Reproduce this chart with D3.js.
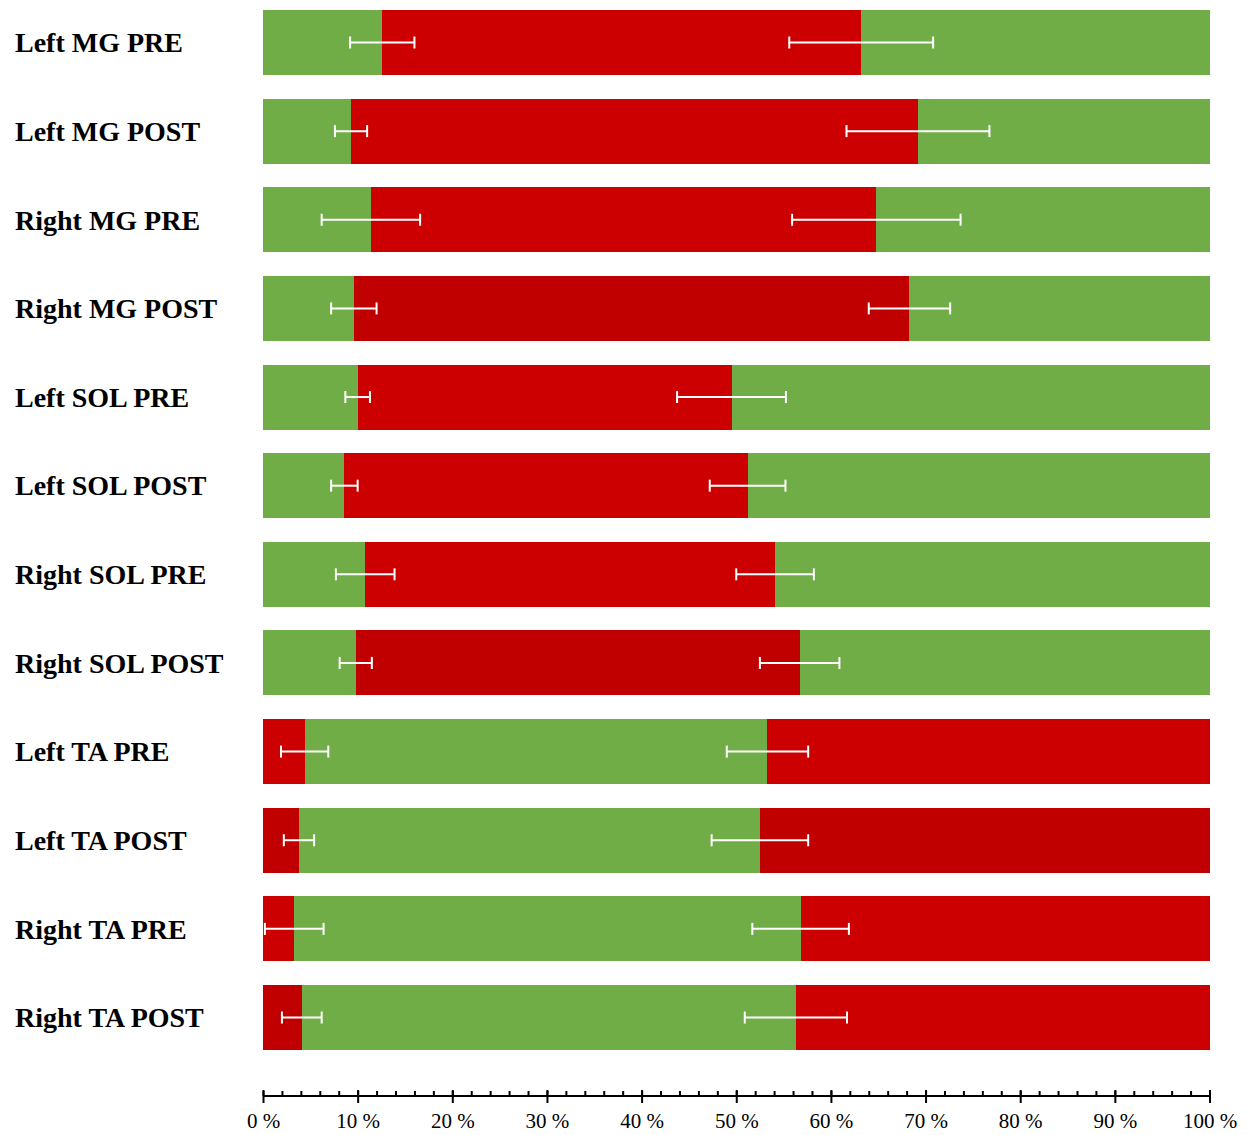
<!DOCTYPE html>
<html>
<head>
<meta charset="utf-8">
<script src="https://cdn.jsdelivr.net/npm/d3@7"></script>
<style>
  html, body { margin: 0; padding: 0; background: #ffffff; }
  svg { display: block; }
</style>
</head>
<body>
<svg id="chart" width="1254" height="1135"></svg>
<script>
// ---- data ----
const categories = [
  "Left MG PRE", "Left MG POST", "Right MG PRE", "Right MG POST",
  "Left SOL PRE", "Left SOL POST", "Right SOL PRE", "Right SOL POST",
  "Left TA PRE", "Left TA POST", "Right TA PRE", "Right TA POST"
];
// first boundary (end of first segment), %
const boundary1 = [12.6, 9.3, 11.4, 9.6, 10.0, 8.6, 10.8, 9.8, 4.4, 3.8, 3.3, 4.1];
// second boundary (end of second segment), %
const boundary2 = [63.2, 69.2, 64.8, 68.3, 49.5, 51.2, 54.1, 56.7, 53.3, 52.5, 56.8, 56.3];
// error half-widths at each boundary, %
const error1 = [3.4, 1.7, 5.2, 2.4, 1.3, 1.4, 3.1, 1.7, 2.5, 1.6, 3.1, 2.1];
const error2 = [7.6, 7.55, 8.9, 4.3, 5.75, 4.0, 4.1, 4.2, 4.3, 5.1, 5.1, 5.4];
// colour keys of the three segments per bar
const segKeys1 = ["green","green","green","green","green","green","green","green","red","darkred","red","darkred"];
const segKeys2 = ["red","red","red","darkred","red","red","red","darkred","green","green","green","green"];
const segKeys3 = ["green","green","green","green","green","green","green","green","red","darkred","red","red"];
const majorTicks = [0, 10, 20, 30, 40, 50, 60, 70, 80, 90, 100];
const minorTicks = d3.range(0, 101, 2);

const palette = { green: "#70AD47", red: "#CC0000", darkred: "#C00000" };

// ---- layout ----
const svg = d3.select("#chart");
const x = d3.scaleLinear().domain([0, 100]).range([263, 1209.5]);
const y = d3.scaleBand().domain(categories).range([10, 1050]).paddingInner(0.267).paddingOuter(0);

const rows = categories.map((c, i) => ({
  cat: c,
  segs: [
    { x0: 0, x1: boundary1[i], key: segKeys1[i] },
    { x0: boundary1[i], x1: boundary2[i], key: segKeys2[i] },
    { x0: boundary2[i], x1: 100, key: segKeys3[i] }
  ],
  errs: [
    { c: boundary1[i], e: error1[i] },
    { c: boundary2[i], e: error2[i] }
  ]
}));

const g = svg.selectAll("g.row").data(rows).join("g").attr("class", "row")
  .attr("transform", d => `translate(0,${y(d.cat)})`);

g.selectAll("rect").data(d => d.segs).join("rect")
  .attr("x", d => x(d.x0))
  .attr("width", d => x(d.x1) - x(d.x0))
  .attr("y", 0)
  .attr("height", y.bandwidth())
  .attr("fill", d => palette[d.key])
  .attr("shape-rendering", "crispEdges");

const bw = y.bandwidth();
const eg = g.selectAll("g.err").data(d => d.errs).join("g").attr("class", "err");
eg.append("line")
  .attr("x1", d => x(d.c - d.e)).attr("x2", d => x(d.c + d.e))
  .attr("y1", bw / 2).attr("y2", bw / 2);
eg.append("line")
  .attr("x1", d => x(d.c - d.e)).attr("x2", d => x(d.c - d.e))
  .attr("y1", bw / 2 - 6).attr("y2", bw / 2 + 6);
eg.append("line")
  .attr("x1", d => x(d.c + d.e)).attr("x2", d => x(d.c + d.e))
  .attr("y1", bw / 2 - 6).attr("y2", bw / 2 + 6);
eg.selectAll("line").attr("stroke", "#ffffff").attr("stroke-width", 2);

// category labels
svg.selectAll("text.cat").data(categories).join("text").attr("class", "cat")
  .attr("x", 15)
  .attr("y", d => y(d) + bw / 2)
  .attr("dy", "0.35em")
  .attr("font-family", "'Liberation Serif', 'Times New Roman', serif")
  .attr("font-weight", "bold")
  .attr("font-size", 28)
  .attr("fill", "#000")
  .text(d => d);

// ---- axis ----
const axisY = 1096;
const minorAxis = d3.axisTop(x).tickValues(minorTicks).tickSize(5).tickFormat("");
const majorTop = d3.axisTop(x).tickValues(majorTicks).tickSize(6).tickFormat("");
const majorBottom = d3.axisBottom(x).tickValues(majorTicks).tickSize(7)
  .tickFormat(d => d + " %");

const ax1 = svg.append("g").attr("transform", `translate(0,${axisY})`).call(minorAxis);
const ax2 = svg.append("g").attr("transform", `translate(0,${axisY})`).call(majorTop);
const ax3 = svg.append("g").attr("transform", `translate(0,${axisY})`).call(majorBottom);
[ax1, ax2, ax3].forEach(a => {
  a.selectAll("path.domain").attr("stroke", "#000").attr("stroke-width", 2);
  a.selectAll(".tick line").attr("stroke", "#000").attr("stroke-width", 2);
});
ax3.selectAll(".tick text")
  .attr("y", 32)
  .attr("dy", null)
  .attr("font-family", "'Liberation Serif', 'Times New Roman', serif")
  .attr("font-size", 21)
  .attr("fill", "#000");
[ax1, ax2, ax3].forEach(a => a.selectAll("path.domain").attr("d", `M${x(0)},0H${x(100)}`));
</script>
</body>
</html>
